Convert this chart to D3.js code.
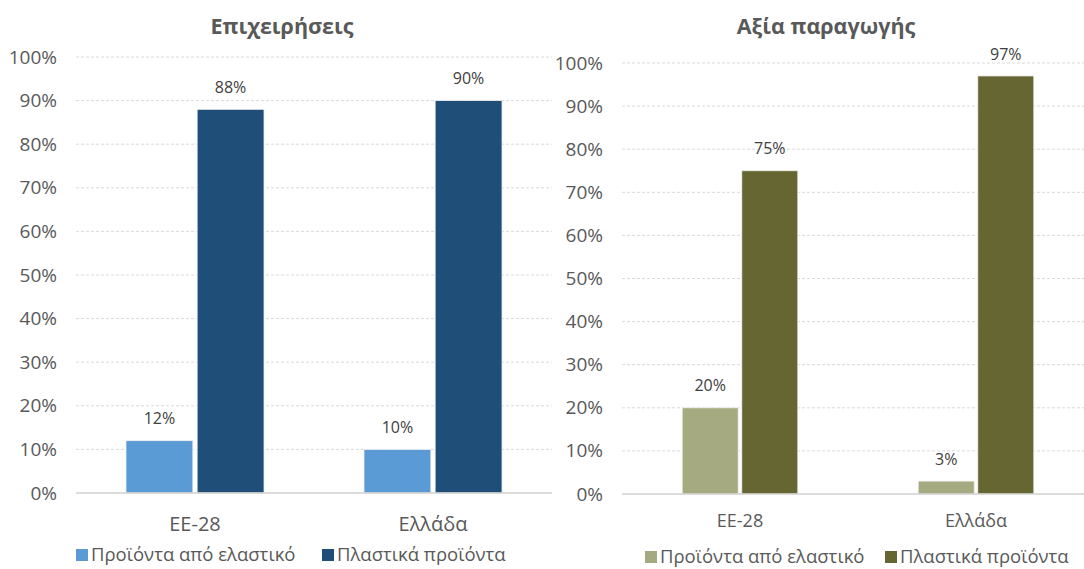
<!DOCTYPE html>
<html>
<head>
<meta charset="utf-8">
<script src="https://cdn.jsdelivr.net/npm/d3@7"></script>
<style>
  html, body { margin: 0; padding: 0; background: #fff; }
  svg { display: block; font-family: "Open Sans", "Noto Sans", sans-serif; }
</style>
</head>
<body>
<svg id="chart" width="1084" height="569"></svg>
<script>
// Data
const categories = ["ΕΕ-28", "Ελλάδα"];
const seriesNames = ["Προϊόντα από ελαστικό", "Πλαστικά προϊόντα"];
const firmsRubber = [0.12, 0.10];
const firmsPlastic = [0.88, 0.90];
const outputRubber = [0.20, 0.03];
const outputPlastic = [0.75, 0.97];
const yTicks = [0, 0.1, 0.2, 0.3, 0.4, 0.5, 0.6, 0.7, 0.8, 0.9, 1.0];
const titles = ["Επιχειρήσεις", "Αξία παραγωγής"];

const svg = d3.select("#chart");
const pct = d3.format(".0%");

// Panel layout and styling
const panels = [
  {
    title: titles[0], values: [firmsRubber, firmsPlastic],
    colors: ["#5B9BD5", "#1F4E79"],
    left: 76, right: 552, top: 57, bottom: 493,
    tickX: 57, groupFrac: 0.58, catY: 524, catSize: 20,
    titleX: 282, titleY: 26,
    legendY: 555, legendX: [76, 322]
  },
  {
    title: titles[1], values: [outputRubber, outputPlastic],
    colors: ["#A5AA80", "#666633"],
    left: 622, right: 1094, top: 63, bottom: 494,
    tickX: 603, groupFrac: 0.49, catY: 521, catSize: 18,
    titleX: 826, titleY: 26,
    legendY: 557, legendX: [645, 885]
  }
];

panels.forEach(p => {
  const g = svg.append("g");

  const y = d3.scaleLinear().domain([0, 1]).range([p.bottom, p.top]);
  const x0 = d3.scaleBand().domain(categories).range([p.left, p.right]).padding(0);
  const groupW = x0.bandwidth() * p.groupFrac;
  const x1 = d3.scaleBand().domain(seriesNames).range([0, groupW]).paddingInner(0.06);

  // Gridlines
  g.append("g").selectAll("line")
    .data(yTicks.filter(t => t > 0))
    .join("line")
    .attr("x1", p.left).attr("x2", p.right)
    .attr("y1", d => y(d)).attr("y2", d => y(d))
    .attr("stroke", "#d9d9d9").attr("stroke-width", 1)
    .attr("stroke-dasharray", "3,2");

  // Y axis labels
  const yAxis = d3.axisLeft(y).tickValues(yTicks).tickFormat(pct).tickSize(0).tickPadding(0);
  const ya = g.append("g").attr("transform", `translate(${p.tickX},0)`).call(yAxis);
  ya.select(".domain").remove();
  ya.selectAll("text").attr("fill", "#595959").attr("font-size", 19)
    .attr("font-family", "'Open Sans', sans-serif");

  // Bars
  const groups = g.append("g").selectAll("g")
    .data(categories)
    .join("g")
    .attr("transform", c => `translate(${x0(c) + (x0.bandwidth() - groupW) / 2},0)`);

  groups.each(function(c, ci) {
    const gg = d3.select(this);
    seriesNames.forEach((s, si) => {
      const v = p.values[si][ci];
      gg.append("rect")
        .attr("x", x1(s)).attr("width", x1.bandwidth())
        .attr("y", y(v)).attr("height", y(0) - y(v))
        .attr("fill", p.colors[si])
        .attr("stroke", "#f2f2f2").attr("stroke-width", 0.8);
      gg.append("text")
        .attr("x", x1(s) + x1.bandwidth() / 2)
        .attr("y", y(v) - 22)
        .attr("dy", "0.35em")
        .attr("text-anchor", "middle")
        .attr("font-size", 16).attr("fill", "#404040")
        .text(pct(v));
    });
  });

  // Baseline
  g.append("line")
    .attr("x1", p.left).attr("x2", p.right)
    .attr("y1", y(0)).attr("y2", y(0))
    .attr("stroke", "#d0d0d0").attr("stroke-width", 1.5);

  // Category labels
  const xAxis = d3.axisBottom(x0).tickSize(0).tickPadding(0);
  const xa = g.append("g").attr("transform", `translate(0,${p.catY})`).call(xAxis);
  xa.select(".domain").remove();
  xa.selectAll("text").attr("fill", "#595959").attr("font-size", p.catSize)
    .attr("dy", "0.35em").attr("y", 0)
    .attr("font-family", "'Open Sans', sans-serif");

  // Title
  g.append("text")
    .attr("x", p.titleX).attr("y", p.titleY).attr("dy", "0.35em")
    .attr("text-anchor", "middle")
    .attr("font-size", 21.5).attr("font-weight", "bold").attr("fill", "#595959")
    .text(p.title);

  // Legend
  const lg = g.append("g").selectAll("g")
    .data(seriesNames)
    .join("g")
    .attr("transform", (d, i) => `translate(${p.legendX[i]},${p.legendY})`);
  lg.append("rect").attr("x", 0).attr("y", -6).attr("width", 12).attr("height", 12)
    .attr("fill", (d, i) => p.colors[i]);
  lg.append("text").attr("x", 15).attr("y", 0).attr("dy", "0.35em")
    .attr("font-size", 18.5).attr("fill", "#595959")
    .text(d => d);
});
</script>
</body>
</html>
